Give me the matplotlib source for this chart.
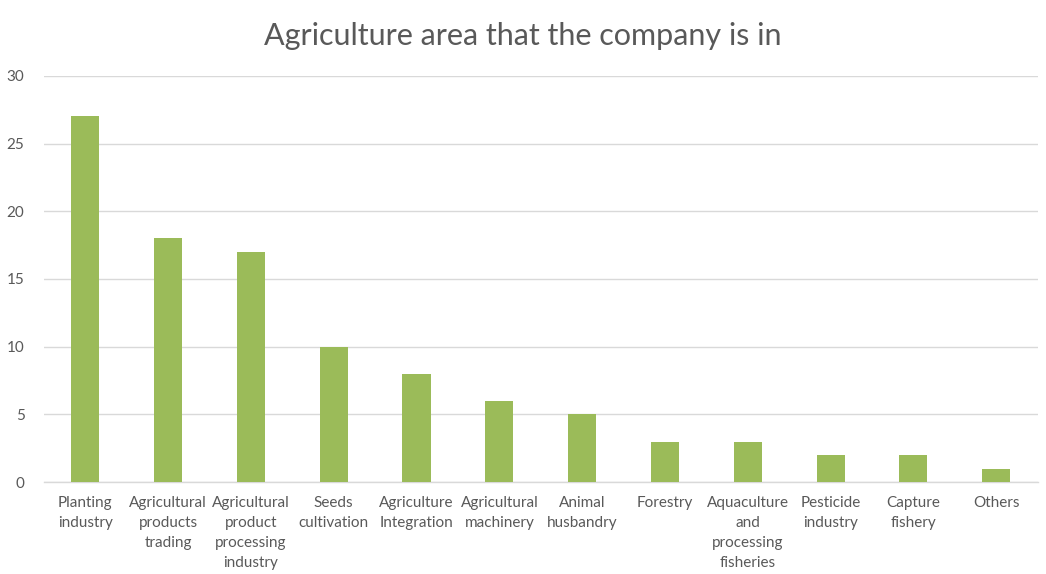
import matplotlib
matplotlib.use("Agg")
import matplotlib.pyplot as plt
import numpy as np

categories = [
    "Planting\nindustry",
    "Agricultural\nproducts\ntrading",
    "Agricultural\nproduct\nprocessing\nindustry",
    "Seeds\ncultivation",
    "Agriculture\nIntegration",
    "Agricultural\nmachinery",
    "Animal\nhusbandry",
    "Forestry",
    "Aquaculture\nand\nprocessing\nfisheries",
    "Pesticide\nindustry",
    "Capture\nfishery",
    "Others",
]
counts = [27, 18, 17, 10, 8, 6, 5, 3, 3, 2, 2, 1]
y_ticks = [0, 5, 10, 15, 20, 25, 30]

_TEXT = "#595959"
_GRID = "#d9d9d9"
_BAR = "#9bbb59"

plt.rcParams["font.family"] = ["Lato", "DejaVu Sans"]

fig = plt.figure(figsize=(10.46, 5.74), dpi=100, facecolor="white")
ax = fig.add_axes([0.042, 0.160, 0.950, 0.708])

x = np.arange(len(categories))
ax.bar(x, counts, width=0.34, color=_BAR, zorder=3)

ax.set_xlim(-0.5, len(categories) - 0.5)
ax.set_ylim(0, 30)
ax.set_yticks(y_ticks)
ax.set_xticks(x)
ax.set_xticklabels(categories, linespacing=1.53)
ax.tick_params(axis="both", length=0, colors=_TEXT, labelsize=11)
ax.tick_params(axis="y", pad=14)
ax.tick_params(axis="x", pad=10)

ax.grid(axis="y", color=_GRID, linewidth=1, zorder=0)
for side in ["top", "right", "left"]:
    ax.spines[side].set_visible(False)
ax.spines["bottom"].set_color(_GRID)
ax.spines["bottom"].set_linewidth(1)

fig.text(0.5, 0.938, "Agriculture area that the company is in",
         ha="center", va="center", fontsize=22, color=_TEXT)

fig.savefig("out.png", dpi=100, facecolor="white")
